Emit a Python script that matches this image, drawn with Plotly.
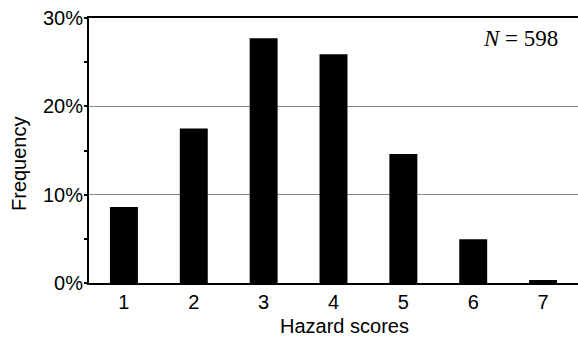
import plotly.graph_objects as go

scores = [1, 2, 3, 4, 5, 6, 7]
frequency_pct = [8.6, 17.5, 27.7, 25.9, 14.6, 4.95, 0.34]
y_tick_vals = [0, 10, 20, 30]
y_tick_text = ["0%", "10%", "20%", "30%"]
sample_label = "<i>N</i> = 598"

fig = go.Figure()
fig.add_trace(go.Bar(
    x=scores, y=frequency_pct, width=0.4,
    marker=dict(color="black", line=dict(width=0)),
))

font_main = "Liberation Sans, Arial, sans-serif"

fig.update_layout(
    width=578, height=337,
    margin=dict(l=89, r=0, t=18, b=54),
    plot_bgcolor="white", paper_bgcolor="white",
    showlegend=False,
    font=dict(family=font_main, size=20, color="black"),
    xaxis=dict(
        range=[0.5, 7.5], tickvals=scores, ticktext=[str(s) for s in scores],
        showline=True, linecolor="black", linewidth=1.5, mirror=True,
        ticks="", showgrid=False, zeroline=False,
        tickfont=dict(size=20, family=font_main, color="black"),
    ),
    yaxis=dict(
        range=[0, 30], tickvals=y_tick_vals, ticktext=y_tick_text,
        showline=True, linecolor="black", linewidth=2,
        ticks="outside", ticklen=3, tickwidth=1.5, tickcolor="black",
        ticklabelstandoff=-3,
        minor=dict(tickvals=[5, 15, 25], ticks="outside", ticklen=3, tickwidth=1.5, tickcolor="black", showgrid=False),
        showgrid=True, gridcolor="#8a8a8a", gridwidth=1,
        zeroline=False,
        tickfont=dict(size=20, family=font_main, color="black"),
    ),
    annotations=[
        dict(text=sample_label, xref="paper", yref="paper", x=(560 - 89) / 489, y=(337 - 54 - 38) / 265,
             xanchor="right", yanchor="middle", showarrow=False,
             font=dict(family="Liberation Serif, Times New Roman, serif", size=23, color="black")),
        dict(text="Frequency", xref="paper", yref="paper", x=-(89 - 19) / 489, y=(283 - 164) / 265,
             xanchor="center", yanchor="middle", textangle=-90, showarrow=False,
             font=dict(family=font_main, size=20, color="black")),
        dict(text="Hazard scores", xref="paper", yref="paper", x=(344.5 - 89) / 489, y=-(326 - 283) / 265,
             xanchor="center", yanchor="middle", showarrow=False,
             font=dict(family=font_main, size=20, color="black")),
    ],
)

fig.write_html("out.html", config={"displayModeBar": False},
               post_script="document.body.style.margin='0';document.body.style.padding='0';")
